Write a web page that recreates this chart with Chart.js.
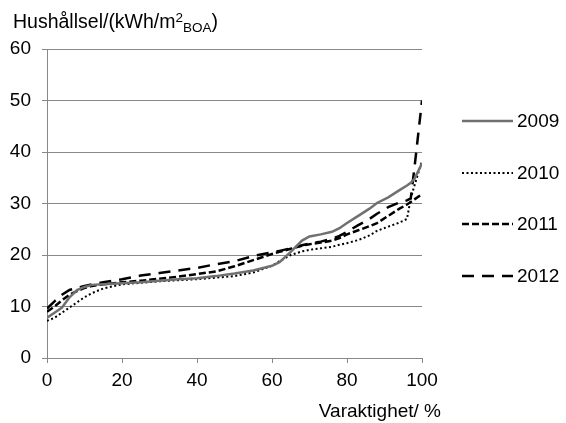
<!DOCTYPE html>
<html>
<head>
<meta charset="utf-8">
<script src="https://cdn.jsdelivr.net/npm/chart.js@4"></script>
<style>
  html, body { margin: 0; padding: 0; background: #fff; }
  #wrap { width: 566px; height: 423px; }
</style>
</head>
<body>
<div id="wrap"><canvas id="chart" width="566" height="423"></canvas></div>
<script>
// varaktighet i procent (x) och hushållsel per år
const xs = [0, 2, 4, 6, 8, 10, 12, 15, 20, 25, 30, 35, 40, 45, 50, 55, 60, 62, 65, 68, 70, 73, 76, 78, 80, 83, 86, 88, 91, 94, 96, 97, 98, 100];
const el2009 = [7.8, 8.8, 9.8, 11.8, 13.2, 13.8, 14.2, 14.3, 14.5, 14.7, 15.0, 15.3, 15.5, 15.9, 16.4, 17.0, 17.9, 18.6, 20.6, 22.8, 23.6, 24.0, 24.5, 25.2, 26.2, 27.6, 29.0, 30.1, 31.2, 32.6, 33.5, 34.0, 34.8, 37.8];
const el2010 = [7.2, 7.8, 8.8, 9.8, 10.8, 11.8, 12.6, 13.5, 14.3, 14.6, 14.9, 15.1, 15.3, 15.6, 15.9, 16.6, 17.9, 18.8, 20.0, 20.7, 21.0, 21.3, 21.6, 22.0, 22.3, 22.9, 23.8, 24.7, 25.5, 26.3, 27.0, 31.0, 33.5, 38.3];
const el2011 = [9.0, 10.0, 11.2, 12.3, 13.0, 13.6, 14.0, 14.3, 14.7, 15.0, 15.4, 15.8, 16.3, 16.8, 17.8, 19.0, 20.2, 20.6, 21.2, 21.8, 22.1, 22.4, 22.8, 23.3, 24.0, 24.8, 25.6, 26.2, 27.6, 29.0, 29.8, 30.3, 30.8, 31.8];
const el2012 = [9.6, 11.0, 12.3, 13.2, 13.6, 14.0, 14.3, 14.7, 15.3, 16.0, 16.5, 17.0, 17.5, 18.2, 18.8, 19.8, 20.5, 20.8, 21.3, 21.9, 22.2, 22.6, 23.2, 23.7, 24.5, 25.8, 27.0, 28.0, 29.3, 30.2, 30.6, 31.0, 37.0, 50.0];
const years = ['2009', '2010', '2011', '2012'];
const yTicks = [0, 10, 20, 30, 40, 50, 60];
const xTicks = [0, 20, 40, 60, 80, 100];

const FONT = '"Liberation Sans", Arial, sans-serif';
const FS = 19;

const toPoints = vals => xs.map((x, i) => ({ x: x, y: vals[i] }));

const styles = [
    { color: '#707070', width: 2.5, dash: [] },
    { color: '#000000', width: 2, dash: [2, 2.5] },
    { color: '#000000', width: 2.5, dash: [7, 3] },
    { color: '#000000', width: 2.5, dash: [12, 8] },
];

const datasets = [el2009, el2010, el2011, el2012].map((vals, i) => ({
    label: years[i],
    data: toPoints(vals),
    borderColor: styles[i].color,
    borderWidth: styles[i].width,
    borderDash: styles[i].dash,
    pointRadius: 0,
    tension: 0,
    fill: false,
}));

// titlar och förklaring ritas för hand
const extras = {
    id: 'extras',
    afterDraw(chart) {
        const ctx = chart.ctx;
        ctx.save();
        ctx.fillStyle = '#000';
        ctx.textBaseline = 'alphabetic';
        ctx.textAlign = 'left';

        // y-axelns titel med upphöjt och nedsänkt
        let x = 13;
        const base = 28;
        ctx.font = '19.5px ' + FONT;
        const main = 'Hushållsel/(kWh/m';
        ctx.fillText(main, x, base);
        x += ctx.measureText(main).width;
        ctx.font = '13.5px ' + FONT;
        ctx.fillText('2', x, base - 6);
        x += ctx.measureText('2').width;
        ctx.fillText('BOA', x, base + 4);
        x += ctx.measureText('BOA').width;
        ctx.font = '19.5px ' + FONT;
        ctx.fillText(')', x, base);

        // x-axelns titel
        ctx.font = FS + 'px ' + FONT;
        ctx.textAlign = 'right';
        ctx.fillText('Varaktighet/ %', 441, 417);

        // förklaring
        const rows = [121, 173, 224, 276];
        ctx.textAlign = 'left';
        ctx.textBaseline = 'middle';
        chart.data.datasets.forEach((ds, i) => {
            const y = rows[i];
            ctx.beginPath();
            ctx.strokeStyle = ds.borderColor;
            ctx.lineWidth = ds.borderWidth;
            ctx.setLineDash(ds.borderDash);
            ctx.moveTo(462, y);
            ctx.lineTo(513, y);
            ctx.stroke();
            ctx.setLineDash([]);
            ctx.fillText(ds.label, 517, y + 1);
        });
        ctx.restore();
    }
};

new Chart(document.getElementById('chart'), {
    type: 'line',
    data: { datasets: datasets },
    options: {
        responsive: false,
        animation: false,
        devicePixelRatio: 1,
        layout: { padding: { left: 0, top: 49, right: 144, bottom: 35 } },
        plugins: { legend: { display: false }, tooltip: { enabled: false } },
        scales: {
            x: {
                type: 'linear',
                min: 0,
                max: 100,
                afterBuildTicks: s => { s.ticks = xTicks.map(v => ({ value: v })); },
                afterFit: s => { s.height = 30; },
                grid: { drawOnChartArea: false, drawTicks: true, tickLength: 5, color: '#888' },
                border: { color: '#888', width: 1 },
                ticks: { color: '#000', font: { family: FONT, size: FS }, padding: 6, maxRotation: 0 },
            },
            y: {
                min: 0,
                max: 60,
                afterBuildTicks: s => { s.ticks = yTicks.map(v => ({ value: v })); },
                afterFit: s => { s.width = 47; },
                grid: { color: '#888', tickLength: 5 },
                border: { color: '#888', width: 1 },
                ticks: { color: '#000', font: { family: FONT, size: FS }, padding: 11 },
            },
        },
    },
    plugins: [extras],
});
</script>
</body>
</html>
